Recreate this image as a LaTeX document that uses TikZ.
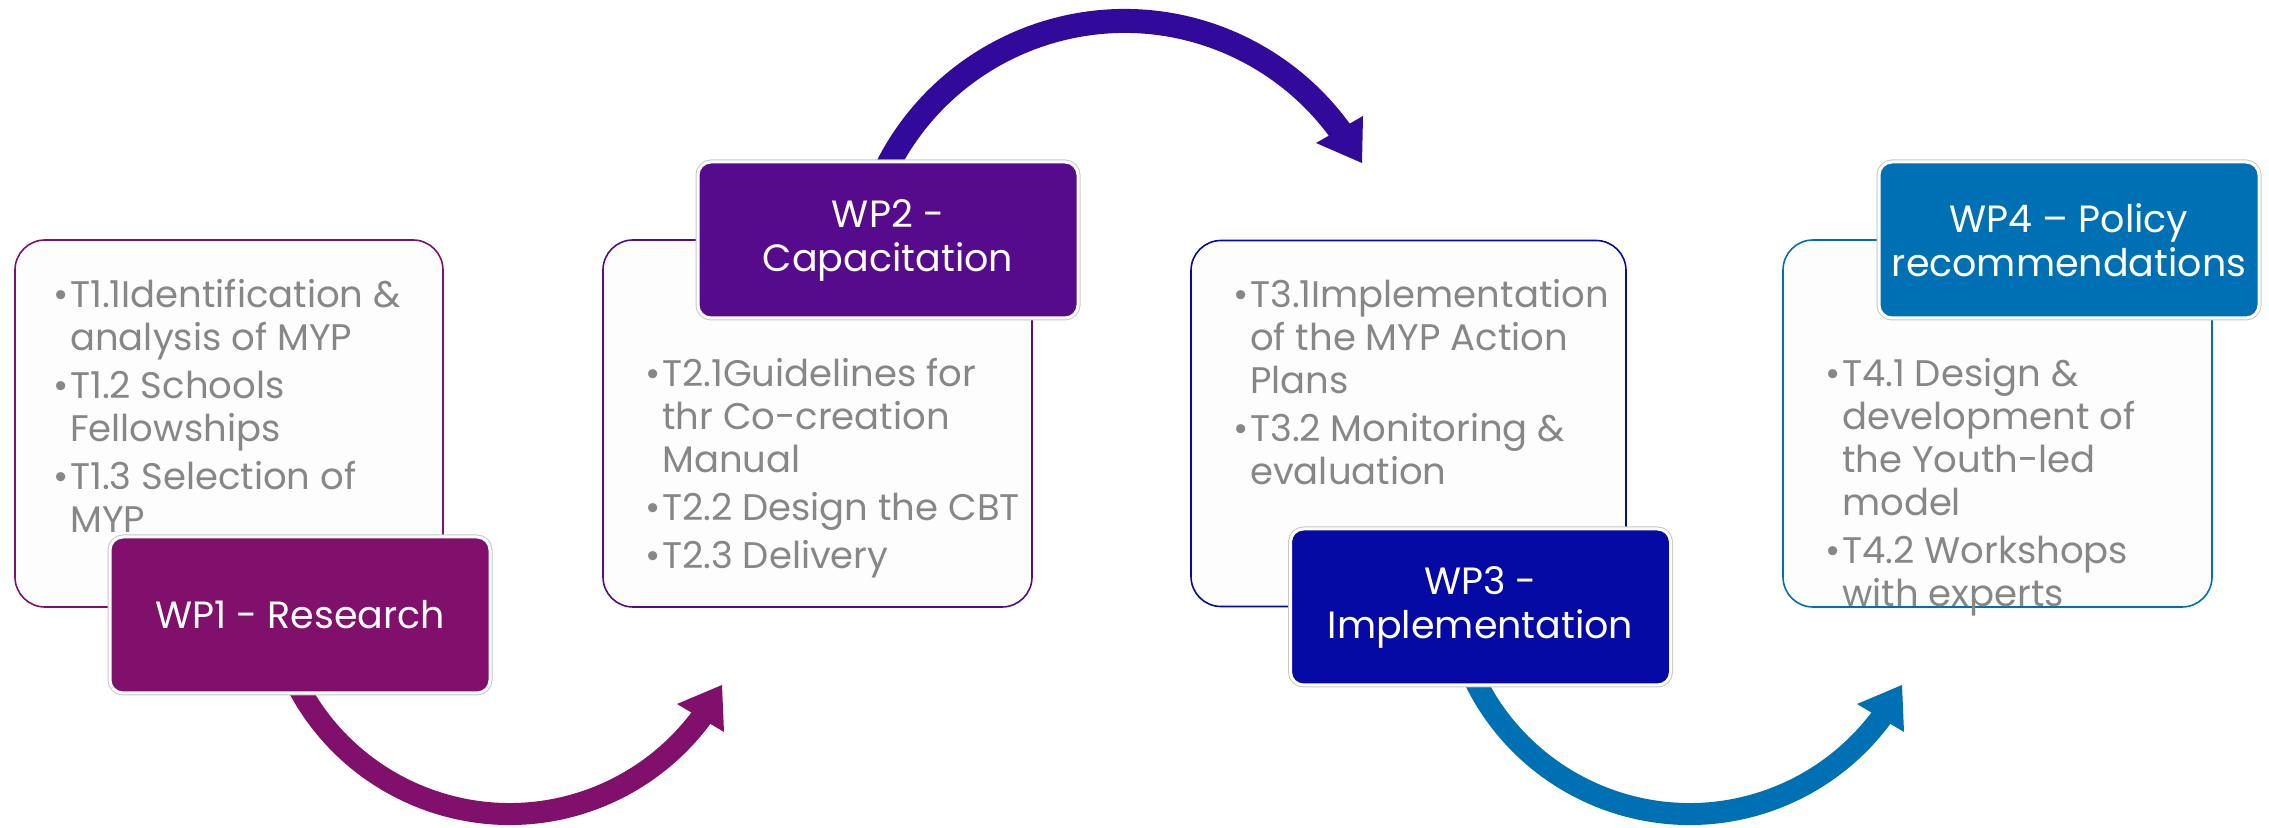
\documentclass[tikz,border=0pt]{standalone}
\usepackage{fontspec}
\setmainfont{Poppins}
\usetikzlibrary{calc}
\definecolor{wpone}{RGB}{128,16,107}
\definecolor{wptwo}{RGB}{86,10,140}
\definecolor{arrtwo}{RGB}{50,10,155}
\definecolor{wpthree}{RGB}{5,10,165}
\definecolor{wpfour}{RGB}{0,112,180}
\definecolor{tgrey}{RGB}{135,135,135}
\definecolor{boxfill}{RGB}{253,253,253}
\newcommand{\bul}{\makebox[17pt][l]{\textbullet}}
\newcommand{\ind}{\hspace*{17pt}}
\tikzset{
  taskbox/.style={line width=1.6pt, fill=boxfill, rounded corners=30pt, inner sep=0pt},
  wplabel/.style={draw=white, line width=3pt, preaction={draw=black!22, line width=5pt},
    rounded corners=13pt, minimum width=380pt, minimum height=156pt, inner sep=0pt,
    text=white, align=center, font=\fontsize{38}{44}\selectfont},
  tasktext/.style={anchor=north west, inner sep=0pt, align=left, text=tgrey,
    font=\fontsize{37}{43}\selectfont},
  band/.style={line width=22pt}
}
\begin{document}
\begin{tikzpicture}[x=1pt,y=1pt]
\useasboundingbox (0,0) rectangle (2269,827);
% task boxes
\node[taskbox, draw=wpone, minimum width=428pt, minimum height=367pt] (b1) at (229,403.5) {};
\node[taskbox, draw=wptwo, minimum width=429pt, minimum height=367pt] (b2) at (817.5,403.5) {};
\node[taskbox, draw=wpthree, minimum width=435pt, minimum height=366pt] (b3) at (1408.5,403.5) {};
\node[taskbox, draw=wpfour, minimum width=429pt, minimum height=367pt] (b4) at (1997.5,403.5) {};
% curved arrows
\coordinate (c1) at (509.5,252);
\coordinate (c2) at (1124.6,539.7);
\coordinate (c3) at (1689.5,252);
\draw[band, wpone] ($(c1)+(205:239)$) arc[start angle=205, end angle=326, radius=239];
\fill[wpone] (677,123) -- (722,142) -- (724,95) -- cycle;
\draw[band, arrtwo, line width=24pt] ($(c2)+(155:266.3)$) arc[start angle=155, end angle=33.5, radius=266.3];
\fill[arrtwo] (1316,684) -- (1363,711) -- (1362,664) -- cycle;
\draw[band, wpfour] ($(c3)+(205:239)$) arc[start angle=205, end angle=326, radius=239];
\fill[wpfour] (1857,123) -- (1902,142) -- (1904,95) -- cycle;
% labels
\node[wplabel, fill=wpone] (l1) at (300,212) {WP1 - Research};
\node[wplabel, fill=wptwo] (l2) at (888,587) {WP2 -\\Capacitation};
\node[wplabel, fill=wpthree] (l3) at (1480.5,220) {WP3 -\\Implementation};
\node[wplabel, fill=wpfour] (l4) at (2069,587) {WP4 -- Policy\\recommendations};
% task texts
\node[tasktext] (t1) at (53,548) {\bul T1.1Identification \&\\ \ind analysis of MYP\\[5pt] \bul T1.2 Schools\\ \ind Fellowships\\[5pt] \bul T1.3 Selection of\\ \ind MYP};
\node[tasktext] (t2) at (645,469) {\bul T2.1Guidelines for\\ \ind thr Co-creation\\ \ind Manual\\[5pt] \bul T2.2 Design the CBT\\[5pt] \bul T2.3 Delivery};
\node[tasktext] (t3) at (1233,548) {\bul T3.1Implementation\\ \ind of the MYP Action\\ \ind Plans\\[5pt] \bul T3.2 Monitoring \&\\ \ind evaluation};
\node[tasktext] (t4) at (1825,469) {\bul T4.1 Design \&\\ \ind development of\\ \ind the Youth-led\\ \ind model\\[5pt] \bul T4.2 Workshops\\ \ind with experts};
\end{tikzpicture}
\end{document}
